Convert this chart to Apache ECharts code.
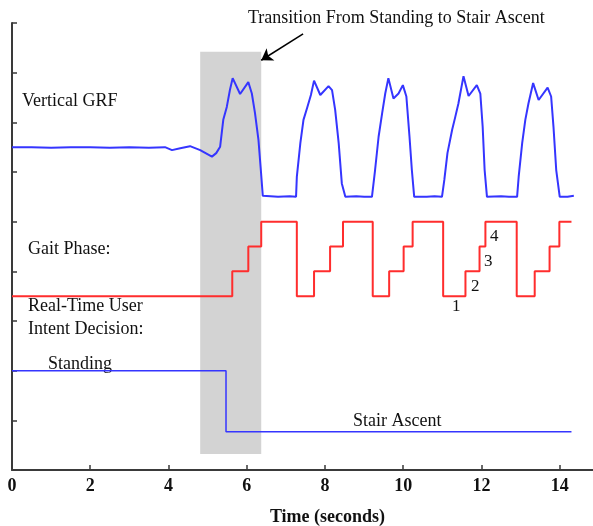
<!DOCTYPE html>
<html>
<head>
<meta charset="utf-8">
<script src="https://cdn.jsdelivr.net/npm/echarts@6/dist/echarts.min.js"></script>
<style>
  html, body { margin: 0; padding: 0; background: #fff; }
  #chart { width: 593px; height: 526px; }
</style>
</head>
<body>
<div id="chart"></div>
<script>
// vertical ground reaction force trace (time s, arbitrary offset units)
const grfTime = [0, 0.5, 1.0, 1.5, 2.0, 2.5, 3.0, 3.5, 3.91, 4.09, 4.30, 4.55, 4.81, 5.11, 5.22, 5.32, 5.40, 5.49, 5.57, 5.64, 5.83, 6.04, 6.13, 6.21, 6.30, 6.36, 6.41, 6.8, 7.1, 7.26,
  7.28, 7.37, 7.45, 7.55, 7.64, 7.72, 7.88, 8.09, 8.18, 8.26, 8.35, 8.43, 8.52, 8.8, 9.0, 9.20,
  9.28, 9.37, 9.46, 9.54, 9.62, 9.75, 9.88, 9.99, 10.08, 10.16, 10.22, 10.28, 10.6, 10.8, 10.99,
  11.05, 11.13, 11.25, 11.33, 11.41, 11.54, 11.67, 11.88, 11.97, 12.03, 12.08, 12.14, 12.5, 12.7, 12.91,
  12.95, 13.04, 13.12, 13.20, 13.32, 13.46, 13.69, 13.78, 13.84, 13.91, 14.00, 14.2, 14.36];
const grfValue = [6.50, 6.50, 6.49, 6.50, 6.50, 6.49, 6.50, 6.49, 6.50, 6.44, 6.48, 6.52, 6.44, 6.31, 6.38, 6.51, 7.05, 7.31, 7.65, 7.89, 7.57, 7.81, 7.58, 7.19, 6.64, 6.04, 5.52, 5.50, 5.51, 5.50,
  5.90, 6.58, 7.05, 7.31, 7.55, 7.84, 7.55, 7.73, 7.65, 7.25, 6.58, 5.77, 5.50, 5.51, 5.50, 5.50,
  6.04, 6.71, 7.18, 7.58, 7.89, 7.48, 7.58, 7.75, 7.52, 6.71, 6.04, 5.50, 5.50, 5.51, 5.50,
  5.84, 6.38, 6.85, 7.11, 7.38, 7.93, 7.53, 7.75, 7.58, 6.91, 6.04, 5.50, 5.51, 5.50, 5.50,
  5.90, 6.58, 7.05, 7.38, 7.79, 7.45, 7.70, 7.52, 6.91, 6.04, 5.50, 5.50, 5.52];

// gait phase (steps 1-4) plotted as stair levels
const phaseTime = [0, 5.63, 6.04, 6.37, 7.28, 7.72, 8.13, 8.46, 9.22, 9.64, 10.01, 10.24, 11.02, 11.59, 11.95, 12.10, 12.90, 13.36, 13.74, 13.99, 14.30];
const phaseLevel = [3.5, 4.0, 4.5, 5.0, 3.5, 4.0, 4.5, 5.0, 3.5, 4.0, 4.5, 5.0, 3.5, 4.0, 4.5, 5.0, 3.5, 4.0, 4.5, 5.0, 5.0];

// real-time user intent decision (standing -> stair ascent)
const intentTime = [0, 5.47, 14.30];
const intentLevel = [2.0, 0.77, 0.77];

// transition window and arrow
const transitionX = [4.81, 6.37];
const transitionY = [0.32, 8.42];
const arrowFrom = [7.44, 8.78];
const arrowTo = [6.37, 8.25];

const xTicks = [0, 2, 4, 6, 8, 10, 12, 14];

const serif = "'Liberation Serif', 'Times New Roman', serif";

function zip(a, b) {
    const out = [];
    for (let i = 0; i < a.length; i++) out.push([a[i], b[i]]);
    return out;
}

function txt(str, left, top, size) {
    return {
        type: 'text', left: left, top: top, silent: true,
        style: { text: str, fill: '#111', font: (size || 18) + 'px ' + serif }
    };
}

const chart = echarts.init(document.getElementById('chart'));
chart.setOption({
    animation: false,
    backgroundColor: '#fff',
    grid: { left: 12, right: 0, top: 23, bottom: 56, outerBoundsMode: 'none', containLabel: false },
    xAxis: {
        type: 'value', min: 0, max: 14.85, interval: 2,
        name: 'Time (seconds)', nameLocation: 'middle', nameGap: 38,
        nameTextStyle: { fontFamily: serif, fontWeight: 'bold', fontSize: 18, color: '#111', padding: [0, 0, 0, 50] },
        axisLine: { show: true, lineStyle: { color: '#3a3a3a', width: 2 } },
        axisTick: { show: true, inside: true, length: 5, lineStyle: { color: '#3a3a3a', width: 1.5 } },
        axisLabel: {
            margin: 7, fontFamily: serif, fontWeight: 'bold', fontSize: 18, color: '#111',
            showMaxLabel: false,
            formatter: v => xTicks.indexOf(v) >= 0 ? String(v) : ''
        },
        splitLine: { show: false }
    },
    yAxis: {
        type: 'value', min: 0, max: 9, interval: 1,
        axisLine: { show: true, lineStyle: { color: '#3a3a3a', width: 2 } },
        axisTick: { show: true, inside: true, length: 5, lineStyle: { color: '#3a3a3a', width: 1.5 } },
        axisLabel: { show: false },
        splitLine: { show: false }
    },
    series: [{
        type: 'line', data: [], z: 1, silent: true,
        markArea: {
            silent: true,
            itemStyle: { color: '#d3d3d3' },
            data: [[{ xAxis: transitionX[0], yAxis: transitionY[0] }, { xAxis: transitionX[1], yAxis: transitionY[1] }]]
        },
        markLine: {
            silent: true,
            symbol: ['none', 'arrow'], symbolSize: 11,
            label: { show: false },
            lineStyle: { color: '#000', width: 1.5, type: 'solid' },
            data: [[{ coord: arrowFrom }, { coord: arrowTo }]]
        }
    }, {
        name: 'Vertical GRF', type: 'line', z: 3, showSymbol: false,
        data: zip(grfTime, grfValue),
        lineStyle: { color: '#3535ff', width: 2 }
    }, {
        name: 'Gait Phase', type: 'line', z: 3, showSymbol: false, step: 'end',
        data: zip(phaseTime, phaseLevel),
        lineStyle: { color: '#ff2d2d', width: 2 }
    }, {
        name: 'Intent', type: 'line', z: 3, showSymbol: false, step: 'end',
        data: zip(intentTime, intentLevel),
        lineStyle: { color: '#3535ff', width: 1.5 }
    }],
    graphic: [
        txt('Transition From Standing to Stair Ascent', 248, 9),
        txt('Vertical GRF', 22, 92),
        txt('Gait Phase:', 28, 240),
        txt('Real-Time User', 28, 297),
        txt('Intent Decision:', 28, 320),
        txt('Standing', 48, 355),
        txt('Stair Ascent', 353, 412),
        txt('1', 452, 298, 17),
        txt('2', 471, 278, 17),
        txt('3', 484, 253, 17),
        txt('4', 490, 228, 17)
    ]
});
</script>
</body>
</html>
